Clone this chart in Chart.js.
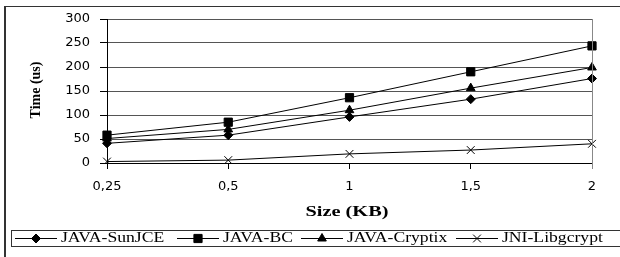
<!DOCTYPE html>
<html>
<head>
<meta charset="utf-8">
<script src="https://cdn.jsdelivr.net/npm/chart.js@4.4.0/dist/chart.umd.min.js"></script>
<style>
  html, body { margin: 0; padding: 0; background: #fff; overflow: hidden; }
  #wrap { position: relative; width: 620px; height: 257px; overflow: hidden; }
  #frame { position: absolute; left: 4px; top: 6px; width: 700px; height: 300px; border-left: 2px solid #333; border-top: 1px solid #333; }
  canvas { position: absolute; left: 0; top: 0; }
</style>
</head>
<body>
<div id="wrap">
  <div id="frame"></div>
  <canvas id="myChart" width="620" height="257"></canvas>
</div>
<script>
// data
const sizes = ["0,25", "0,5", "1", "1,5", "2"];
const sunJCE = [41, 58, 96, 133, 176];
const bc = [58, 85, 136, 190, 244];
const cryptix = [51, 70, 110, 156, 199];
const libgcrypt = [3, 6, 19, 27, 40];
const seriesNames = ["JAVA-SunJCE", "JAVA-BC", "JAVA-Cryptix", "JNI-Libgcrypt"];

const xTitle = "Size (KB)";
const yTitle = "Time (us)";

// where each legend entry starts (sample line), left to right
const legendStarts = [15, 177, 301, 456];

const serif = "'Liberation Serif', 'Times New Roman', serif";

// text in the reference is wider than normal, so stretch it a bit
const stretchText = (ctx, text, x, y, sx, align) => {
	ctx.save();
	ctx.translate(x, y);
	ctx.scale(sx, 1);
	ctx.textAlign = align;
	ctx.textBaseline = "middle";
	ctx.fillText(text, 0, 0);
	ctx.restore();
};

const extras = {
	id: "extras",
	afterDraw(chart) {
		const ctx = chart.ctx;
		const area = chart.chartArea;

		// grey right border of the plot
		ctx.save();
		ctx.strokeStyle = "#888";
		ctx.lineWidth = 1;
		ctx.beginPath();
		ctx.moveTo(Math.round(area.right) + 0.5, area.top);
		ctx.lineTo(Math.round(area.right) + 0.5, area.bottom + 6);
		ctx.stroke();
		ctx.restore();

		// axis titles
		ctx.save();
		ctx.fillStyle = "#000";
		ctx.font = "bold 14px " + serif;
		stretchText(ctx, xTitle, 347, 212, 1.45, "center");
		ctx.translate(36, 90);
		ctx.rotate(-Math.PI / 2);
		ctx.textAlign = "center";
		ctx.textBaseline = "middle";
		ctx.fillText(yTitle, 0, 0);
		ctx.restore();

		// legend box
		ctx.save();
		ctx.strokeStyle = "#333";
		ctx.lineWidth = 1;
		ctx.strokeRect(11.5, 230.5, 640, 16);
		ctx.font = "14px " + serif;
		ctx.fillStyle = "#000";
		ctx.strokeStyle = "#000";
		const ly = 238.5;
		chart.data.datasets.forEach((ds, i) => {
			const x = legendStarts[i];
			ctx.beginPath();
			ctx.moveTo(x, ly);
			ctx.lineTo(x + 42, ly);
			ctx.stroke();
			Chart.helpers.drawPoint(ctx, {
				pointStyle: ds.pointStyle,
				radius: ds.pointRadius,
				rotation: 0,
				borderWidth: 1,
			}, x + 21, ly);
			stretchText(ctx, ds.label, x + 46, ly, 1.26, "left");
		});
		ctx.restore();
	},
};

const makeSet = (label, data, style, radius) => ({
	label,
	data,
	pointStyle: style,
	pointRadius: radius,
	pointHoverRadius: radius,
	borderColor: "#000",
	backgroundColor: "#000",
	pointBackgroundColor: "#000",
	pointBorderColor: "#000",
	borderWidth: 1,
	pointBorderWidth: 1,
	tension: 0,
	fill: false,
});

new Chart(document.getElementById("myChart").getContext("2d"), {
	type: "line",
	data: {
		labels: sizes,
		datasets: [
			makeSet(seriesNames[0], sunJCE, "rectRot", 4.5),
			makeSet(seriesNames[1], bc, "rect", 5.8),
			makeSet(seriesNames[2], cryptix, "triangle", 5),
			makeSet(seriesNames[3], libgcrypt, "crossRot", 5.5),
		],
	},
	options: {
		responsive: false,
		animation: false,
		devicePixelRatio: 1,
		layout: { padding: { top: 19, right: 28, left: 0, bottom: 0 } },
		plugins: {
			legend: { display: false },
			tooltip: { enabled: false },
		},
		scales: {
			x: {
				type: "category",
				offset: false,
				grid: { drawOnChartArea: false, tickLength: 6, color: "#000" },
				border: { color: "#000" },
				ticks: { padding: 10, color: "#000", font: { family: "'DejaVu Sans'", size: 13 }, maxRotation: 0 },
				afterFit: (scale) => { scale.height = 94; },
			},
			y: {
				min: 0,
				max: 300,
				ticks: { stepSize: 50, padding: 10, color: "#000", font: { family: "'DejaVu Sans'", size: 13 } },
				grid: {
					tickLength: 7,
					color: (c) => (c.tick && c.tick.value === 0 ? "#000" : "#555"),
					tickColor: "#000",
				},
				border: { color: "#000" },
				afterFit: (scale) => { scale.width = 107; },
			},
		},
	},
	plugins: [extras],
});
</script>
</body>
</html>
